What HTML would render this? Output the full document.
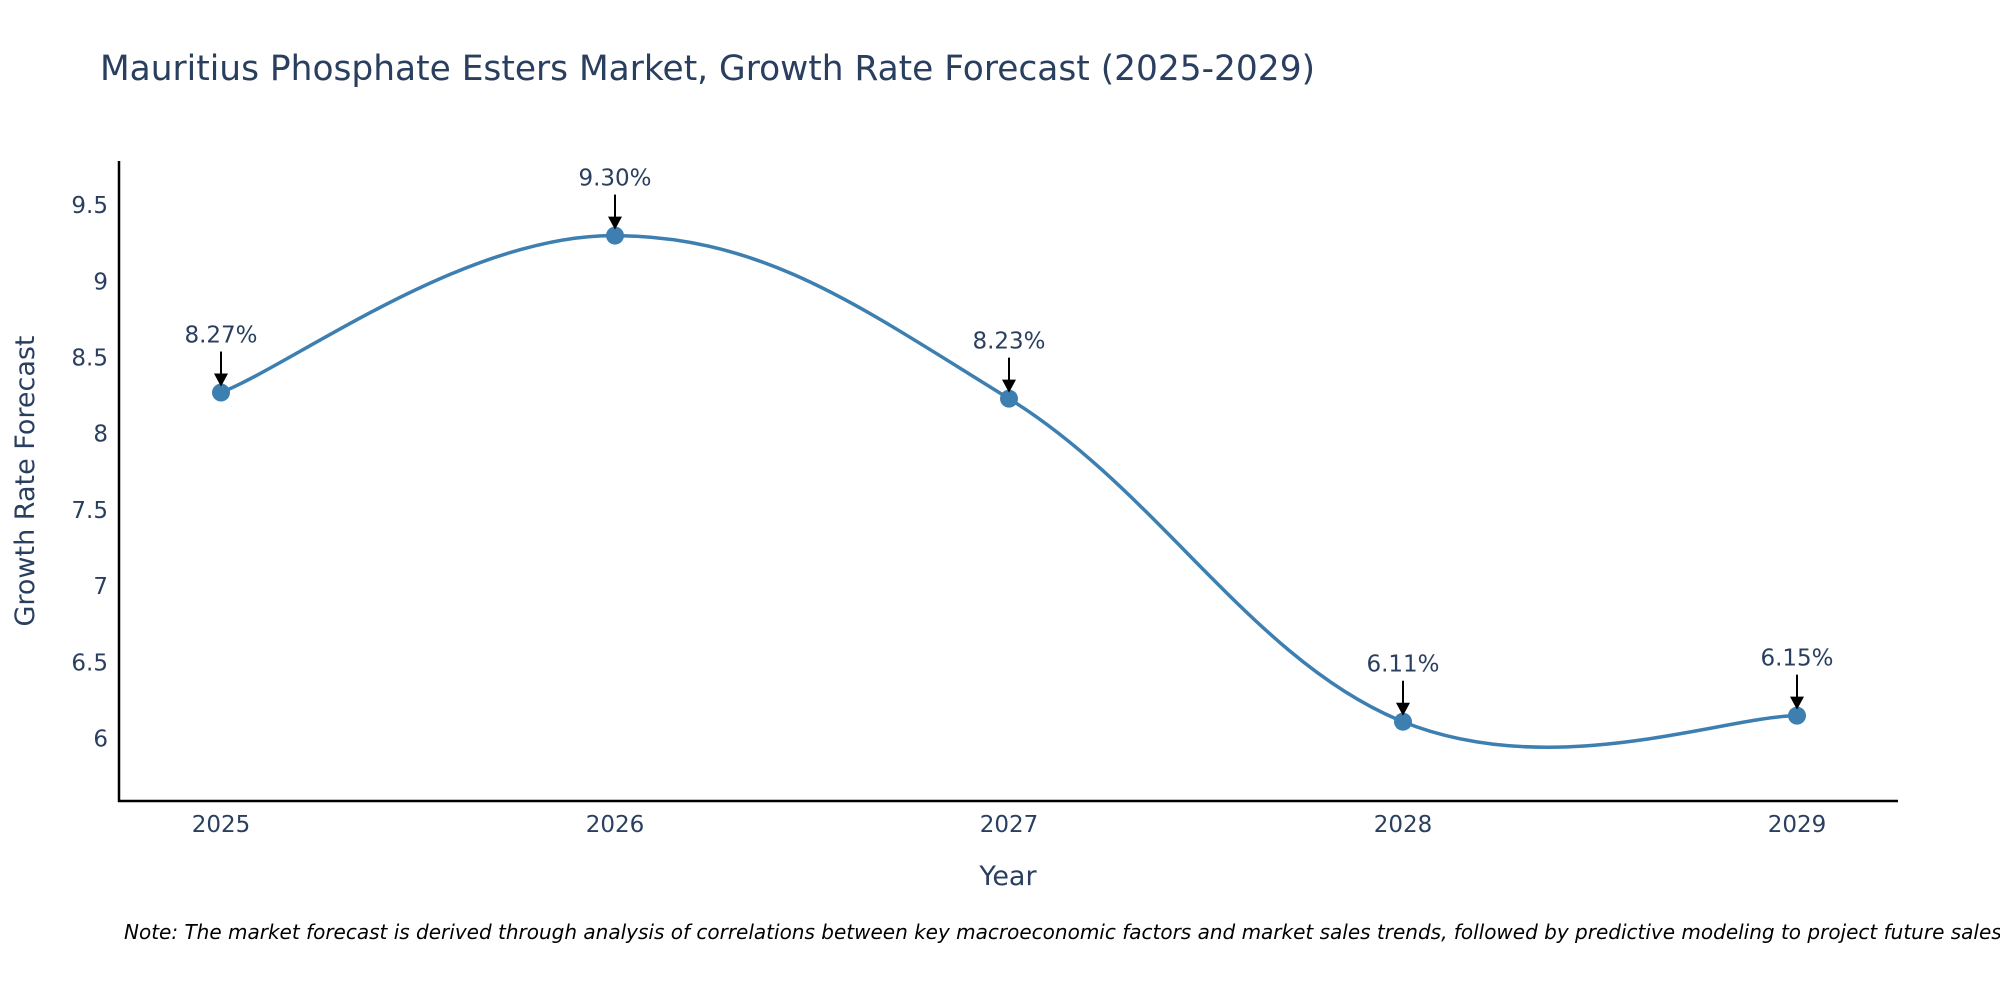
<!DOCTYPE html>
<html><head><meta charset="utf-8"><style>
body{margin:0;background:#fff;}
svg{display:block;font-family:"DejaVu Sans","Liberation Sans",sans-serif;}
</style></head><body>
<svg id="chart" width="2000" height="1000" viewBox="0 0 2000 1000">
<text x="100" y="80" font-size="34.4" fill="#2a3f5f">Mauritius Phosphate Esters Market, Growth Rate Forecast (2025-2029)</text>
<g id="yticks"></g>
<g id="xticks"></g>
<line x1="119" y1="161" x2="119" y2="802" stroke="#000" stroke-width="2.5"/>
<line x1="118" y1="801" x2="1898" y2="801" stroke="#000" stroke-width="2.5"/>
<path id="line" fill="none" stroke="#3d7fb0" stroke-width="3.5"/>
<g id="points"></g>
<g id="annots"></g>
<text x="1008" y="885" font-size="27" fill="#2a3f5f" text-anchor="middle">Year</text>
<text transform="translate(34,481) rotate(-90)" font-size="27" fill="#2a3f5f" text-anchor="middle">Growth Rate Forecast</text>
<text x="124" y="939" font-size="20" font-style="italic" fill="#000">Note: The market forecast is derived through analysis of correlations between key macroeconomic factors and market sales trends, followed by predictive modeling to project future sales.</text>
</svg>
<script>
const years = [2025, 2026, 2027, 2028, 2029];
const values = [8.27, 9.30, 8.23, 6.11, 6.15];
const labels = ["8.27%", "9.30%", "8.23%", "6.11%", "6.15%"];
const yTickVals = [6, 6.5, 7, 7.5, 8, 8.5, 9, 9.5];
const yTickLabels = ["6", "6.5", "7", "7.5", "8", "8.5", "9", "9.5"];

const NS = "http://www.w3.org/2000/svg";
function xs(v){ return 221 + (v - 2025) * 394; }
function ys(v){ return 738.5 - (v - 6) * 152.4; }
function mk(tag, attrs, parent){ const e = document.createElementNS(NS, tag); for (const k in attrs) e.setAttribute(k, attrs[k]); parent.appendChild(e); return e; }

const yt = document.getElementById('yticks');
yTickVals.forEach((v, i) => {
  const t = mk('text', {x: 108, y: ys(v) + 8, 'font-size': 23, fill: '#2a3f5f', 'text-anchor': 'end'}, yt);
  
  
  t.textContent = yTickLabels[i];
});
const xt = document.getElementById('xticks');
years.forEach(y => {
  const t = mk('text', {x: xs(y), y: 832, 'font-size': 23, fill: '#2a3f5f', 'text-anchor': 'middle'}, xt);
  
  
  t.textContent = String(y);
});

const pts = years.map((y, i) => [xs(y), ys(values[i])]);
let d = 'M' + pts[0][0] + ',' + pts[0][1];
const s = 0.19;
for (let i = 0; i < pts.length - 1; i++) {
  const p0 = pts[Math.max(0, i - 1)], p1 = pts[i], p2 = pts[i + 1], p3 = pts[Math.min(pts.length - 1, i + 2)];
  const c1 = [p1[0] + (p2[0] - p0[0]) * s, p1[1] + (p2[1] - p0[1]) * s];
  const c2 = [p2[0] - (p3[0] - p1[0]) * s, p2[1] - (p3[1] - p1[1]) * s];
  d += ' C' + c1[0] + ',' + c1[1] + ' ' + c2[0] + ',' + c2[1] + ' ' + p2[0] + ',' + p2[1];
}
document.getElementById('line').setAttribute('d', d);

const pg = document.getElementById('points');
const ag = document.getElementById('annots');
pts.forEach((p, i) => {
  const c = mk('circle', {cx: p[0], cy: p[1], r: 9, fill: '#3d7fb0'}, pg);
  
  
  const l = mk('line', {x1: p[0], y1: p[1] - 41, x2: p[0], y2: p[1] - 17, stroke: '#000', 'stroke-width': 2}, ag);
  
  
  const h = mk('polygon', {points: (p[0]-7)+','+(p[1]-19)+' '+(p[0]+7)+','+(p[1]-19)+' '+p[0]+','+(p[1]-6), fill: '#000'}, ag);
  
  
  const t = mk('text', {x: p[0], y: p[1] - 50, 'font-size': 23, fill: '#2a3f5f', 'text-anchor': 'middle'}, ag);
  
  
  t.textContent = labels[i];
});
</script>
</body></html>
